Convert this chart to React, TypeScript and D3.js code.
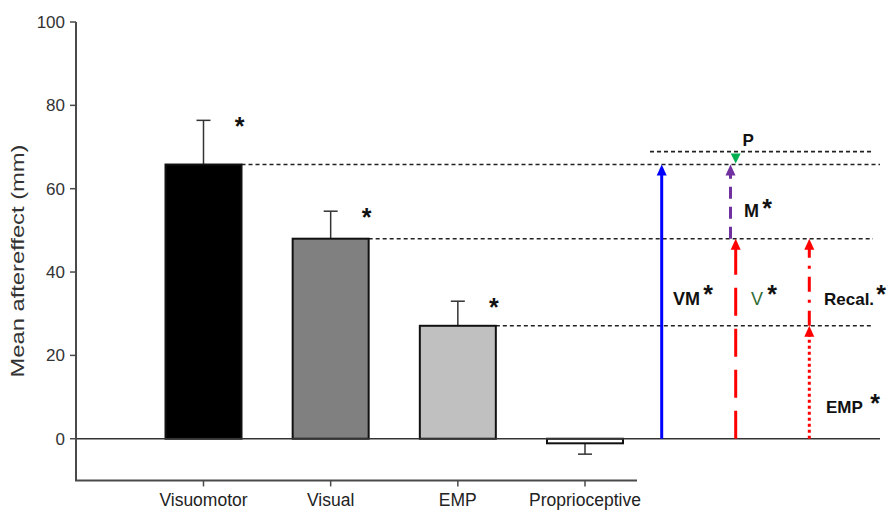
import React from "react";
import * as d3 from "d3";

const categories = ["Visuomotor", "Visual", "EMP", "Proprioceptive"];
const means = [65.8, 48.0, 27.1, -1.1];
const errors = [10.6, 6.6, 5.9, 2.6];
const barFills = ["#000000", "#808080", "#c0c0c0", "#ffffff"];
const yTicks = [0, 20, 40, 60, 80, 100];
const pLevel = 68.9;

const W = 889;
const H = 510;
const FONT = "Arial, 'Liberation Sans', Helvetica, sans-serif";

export default function App() {
  const y = d3.scaleLinear().domain([-10, 100]).range([480.4, 22]);
  const x = d3.scalePoint<string>().domain(categories).range([203.5, 585]);
  const barW = 76;
  const axisX = 76;
  const axisColor = "#4a4a4a";

  const [vm, vis, emp] = means;

  // arrow annotations (from value -> to value)
  const arrows = [
    { x: 661.7, from: 0, to: vm, color: "#0000ff", dash: "none" },
    { x: 735.7, from: 0, to: vis, color: "#ff0000", dash: "28,13" },
    { x: 730.5, from: vis, to: vm, color: "#7030a0", dash: "12,8" },
    { x: 809.3, from: emp, to: vis, color: "#ff0000", dash: "15,8,3,8" },
    { x: 809.3, from: 0, to: emp, color: "#ff0000", dash: "3,3" },
  ];

  const head = (cx: number, tipY: number, up: boolean, color: string, w = 10, h = 11) => {
    const by = up ? tipY + h : tipY - h;
    return (
      <path
        d={`M${cx},${tipY} L${cx - w / 2},${by} L${cx + w / 2},${by} Z`}
        fill={color}
      />
    );
  };

  const guides = [
    { v: vm, x1: x(categories[0])! + barW / 2, x2: 880 },
    { v: vis, x1: x(categories[1])! + barW / 2, x2: 873 },
    { v: emp, x1: x(categories[2])! + barW / 2, x2: 873 },
    { v: pLevel, x1: 650, x2: 873 },
  ];

  const star = (sx: number, cy: number, key?: string) => (
    <text
      key={key}
      x={sx}
      y={cy + 14}
      fontSize={25}
      fontWeight="bold"
      fontFamily={FONT}
      textAnchor="middle"
      fill="#111"
    >
      *
    </text>
  );

  const lbl = (tx: number, ty: number, s: string, fill = "#111", bold = true, fs = 16) => (
    <text x={tx} y={ty} fontSize={fs} fontWeight={bold ? "bold" : "normal"} fontFamily={FONT} fill={fill}>
      {s}
    </text>
  );

  return (
    <svg
      width={W}
      height={H}
      style={{ position: "absolute", left: 0, top: 0, background: "#fff" }}
      xmlns="http://www.w3.org/2000/svg"
    >
      <rect width={W} height={H} fill="#fff" />

      {/* dashed guide lines */}
      {guides.map((g, i) => (
        <line
          key={"g" + i}
          x1={g.x1}
          x2={g.x2}
          y1={y(g.v)}
          y2={y(g.v)}
          stroke="#222"
          strokeWidth={1.6}
          strokeDasharray="4,3"
        />
      ))}

      {/* error bars */}
      {categories.map((c, i) => {
        const cx = x(c)!;
        const m = means[i];
        const e = m >= 0 ? m + errors[i] : m - errors[i];
        return (
          <g key={"e" + c} stroke="#333" strokeWidth={1.5}>
            <line x1={cx} x2={cx} y1={y(m)} y2={y(e)} />
            <line x1={cx - 7} x2={cx + 7} y1={y(e)} y2={y(e)} />
          </g>
        );
      })}

      {/* bars */}
      {categories.map((c, i) => {
        const cx = x(c)!;
        const m = means[i];
        return (
          <rect
            key={"b" + c}
            x={cx - barW / 2}
            width={barW}
            y={Math.min(y(m), y(0))}
            height={Math.abs(y(m) - y(0))}
            fill={barFills[i]}
            stroke="#111"
            strokeWidth={2}
          />
        );
      })}

      {/* significance stars on bars */}
      {categories.slice(0, 3).map((c, i) => star(x(c)! + 36, y(means[i] + errors[i]) + 1, "s" + c))}

      {/* zero line */}
      <line x1={axisX} x2={880} y1={y(0)} y2={y(0)} stroke="#333" strokeWidth={1.5} />

      {/* y axis */}
      <line x1={axisX} x2={axisX} y1={y(100)} y2={y(-10)} stroke={axisColor} strokeWidth={2} />
      {yTicks.map((t) => (
        <g key={"t" + t}>
          <line x1={axisX - 6} x2={axisX} y1={y(t)} y2={y(t)} stroke={axisColor} strokeWidth={1.5} />
          <text
            x={axisX - 11}
            y={y(t) + 6}
            textAnchor="end"
            fontSize={17}
            fontFamily={FONT}
            fill="#333"
          >
            {t}
          </text>
        </g>
      ))}

      {/* x axis */}
      <line x1={axisX - 1} x2={637} y1={y(-10)} y2={y(-10)} stroke={axisColor} strokeWidth={2} />
      {categories.map((c) => (
        <g key={"x" + c}>
          <line x1={x(c)!} x2={x(c)!} y1={y(-10)} y2={y(-10) + 6} stroke={axisColor} strokeWidth={1.5} />
          <text
            x={x(c)!}
            y={506}
            textAnchor="middle"
            fontSize={17.5}
            fontFamily={FONT}
            fill="#222"
          >
            {c}
          </text>
        </g>
      ))}

      {/* y title */}
      <text
        transform={`translate(24,${261}) rotate(-90)`}
        textAnchor="middle"
        fontSize={18}
        fontFamily={FONT}
        fill="#333"
        textLength={233}
        lengthAdjust="spacingAndGlyphs"
      >
        Mean aftereffect (mm)
      </text>

      {/* arrows */}
      {arrows.map((a, i) => (
        <g key={"a" + i}>
          <line
            x1={a.x}
            x2={a.x}
            y1={y(a.from)}
            y2={y(a.to) + 10}
            stroke={a.color}
            strokeWidth={3}
            strokeDasharray={a.dash}
          />
          {head(a.x, y(a.to), true, a.color)}
        </g>
      ))}
      {/* P arrow (down) */}
      {head(735.7, y(vm) - 1, false, "#00b050", 10, 10)}

      {/* arrow labels */}
      {lbl(742.5, 146, "P", "#111", true, 17)}
      {lbl(744, 217, "M", "#111", true, 18)}
      {star(767, 203)}
      {lbl(673, 305, "VM", "#111", true, 18)}
      {star(708, 289)}
      {lbl(751, 305, "V", "#2e6b30", false, 18)}
      {star(772, 289)}
      {lbl(824, 305, "Recal.", "#111", true, 17)}
      {star(881, 289)}
      {lbl(826, 413, "EMP", "#111", true, 17)}
      {star(875, 398)}
    </svg>
  );
}
